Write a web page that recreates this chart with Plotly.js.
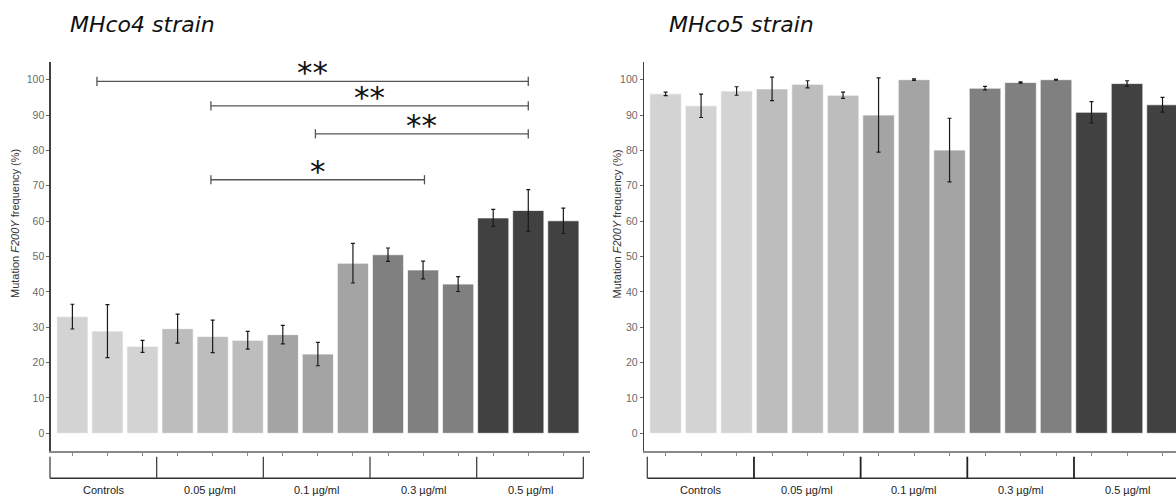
<!DOCTYPE html>
<html>
<head>
<meta charset="utf-8">
<script src="https://cdn.plot.ly/plotly-3.0.1.min.js"></script>
<style>html,body{margin:0;padding:0;background:#fff;}#chart{width:1176px;height:498px;}</style>
</head>
<body>
<div id="chart"></div>
<script>
// ---------- data ----------
const groups = ['Controls', '0.05 µg/ml', '0.1 µg/ml', '0.3 µg/ml', '0.5 µg/ml'];
const groupColors = ['#d3d3d3', '#bdbdbd', '#a4a4a4', '#808080', '#414141'];
const barsPerGroup = 3;
const barIndex = [0,1,2,3,4,5,6,7,8,9,10,11,12,13,14];

const mhco4Values = [33.0, 28.9, 24.6, 29.6, 27.4, 26.3, 27.9, 22.4, 48.1, 50.5, 46.2, 42.2, 60.9, 63.0, 60.1];
const mhco4Err    = [3.5, 7.5, 1.7, 4.1, 4.6, 2.5, 2.6, 3.3, 5.6, 1.9, 2.5, 2.1, 2.4, 5.9, 3.6];

const mhco5Values = [96.0, 92.6, 96.8, 97.4, 98.7, 95.6, 90.0, 100.0, 80.1, 97.6, 99.2, 100.0, 90.8, 98.9, 92.9];
const mhco5Err    = [0.5, 3.3, 1.2, 3.3, 1.0, 0.9, 10.5, 0.2, 9.0, 0.5, 0.2, 0.1, 3.0, 0.8, 2.1];

// significance comparisons on MHco4 panel (bar positions, height, label)
const sigFrom  = [0.7, 3.95, 6.93, 3.95];
const sigTo    = [13.0, 13.0, 13.0, 10.04];
const sigY     = [99.5, 92.6, 84.7, 71.7];
const sigLabel = ['**', '**', '**', '*'];

const yTicks = [0, 10, 20, 30, 40, 50, 60, 70, 80, 90, 100];
const panelTitles = ['MHco4 strain', 'MHco5 strain'];
const yTitle = 'Mutation <i>F200Y</i> frequency (%)';

// ---------- build ----------
const W = 1176, H = 498;
const px = v => v / W;          // x pixel -> paper
const py = v => (H - v) / H;    // y pixel -> paper

const barColors = barIndex.map(i => groupColors[Math.floor(i / barsPerGroup)]);

function barTrace(vals, err, xa, ya) {
  return {
    type: 'bar', x: barIndex, y: vals, xaxis: xa, yaxis: ya,
    marker: {color: barColors, line: {color: 'rgba(255,255,255,0.7)', width: 1}},
    error_y: {type: 'data', array: err, visible: true, color: '#1a1a1a', thickness: 1.2, width: 2},
    showlegend: false, hoverinfo: 'x+y'
  };
}

const data = [
  barTrace(mhco4Values, mhco4Err, 'x', 'y'),
  barTrace(mhco5Values, mhco5Err, 'x2', 'y2')
];

const yDomain = [py(451), py(62)];

function xAxis(domain, range, anchor) {
  return {
    domain: domain, range: range, anchor: anchor,
    showline: true, linecolor: '#8a8a8a', linewidth: 1.5,
    ticks: 'outside', ticklen: 3, tickwidth: 1, tickcolor: '#8a8a8a',
    tickvals: barIndex, ticktext: barIndex.map(() => ''),
    showgrid: false, zeroline: false, fixedrange: true
  };
}
function yAxis(anchor) {
  return {
    domain: yDomain, range: [-5, 105], anchor: anchor,
    showline: true, linecolor: '#404040', linewidth: 1.6,
    ticks: 'outside', ticklen: 3, tickwidth: 1, tickcolor: '#666',
    tickvals: yTicks, ticktext: yTicks.map(String),
    tickfont: {family: 'Liberation Sans, Arial, sans-serif', size: 10.5, color: '#6a6a6a'},
    showgrid: false, zeroline: false, fixedrange: true
  };
}

const shapes = [];
const annotations = [];

// group brackets under each panel
const bracketStarts = [50, 647.3];
const bracketStep = 106.67;
bracketStarts.forEach((x0, p) => {
  const xEnd = x0 + bracketStep * groups.length;
  shapes.push({type: 'line', xref: 'paper', yref: 'paper',
    x0: px(x0), x1: px(Math.min(xEnd, W + 5)), y0: py(478.3), y1: py(478.3),
    line: {color: '#333', width: 1.4}});
  for (let k = 0; k <= groups.length; k++) {
    const xs = x0 + bracketStep * k;
    if (xs > W + 2) continue;
    shapes.push({type: 'line', xref: 'paper', yref: 'paper',
      x0: px(xs), x1: px(xs), y0: py(456.7), y1: py(478.3),
      line: {color: p === 1 && k > 0 ? '#222' : '#444', width: p === 1 && k > 0 ? 1.8 : 1.3}});
  }
  groups.forEach((g, k) => {
    annotations.push({xref: 'paper', yref: 'paper', x: px(x0 + bracketStep * (k + 0.5)), y: py(489.5),
      text: g, showarrow: false, xanchor: 'center', yanchor: 'middle',
      font: {family: 'Liberation Sans, Arial, sans-serif', size: 11, color: '#222'}});
  });
});

// significance bars
sigFrom.forEach((a, i) => {
  const b = sigTo[i], yv = sigY[i];
  shapes.push({type: 'line', xref: 'x', yref: 'y', x0: a, x1: b, y0: yv, y1: yv, line: {color: '#555', width: 1.3}});
  shapes.push({type: 'line', xref: 'x', yref: 'y', x0: a, x1: a, y0: yv - 1.3, y1: yv + 1.3, line: {color: '#555', width: 1.3}});
  shapes.push({type: 'line', xref: 'x', yref: 'y', x0: b, x1: b, y0: yv - 1.3, y1: yv + 1.3, line: {color: '#555', width: 1.3}});
  annotations.push({xref: 'x', yref: 'y', x: (a + b) / 2, y: yv, text: sigLabel[i], showarrow: false,
    xanchor: 'center', yanchor: 'bottom', yshift: -11,
    font: {family: 'DejaVu Sans, sans-serif', size: 31, color: '#111'}});
});

// panel titles
const titleX = [68.3, 666.7];
panelTitles.forEach((t, i) => {
  annotations.push({xref: 'paper', yref: 'paper', x: px(titleX[i]), y: py(24), text: '<i>' + t + '</i>',
    showarrow: false, xanchor: 'left', yanchor: 'middle',
    font: {family: 'DejaVu Sans, Verdana, sans-serif', size: 22, color: '#111'}});
});

// y axis titles
const yTitleX = [15, 616.5];
yTitleX.forEach(x => {
  annotations.push({xref: 'paper', yref: 'paper', x: px(x), y: py(224), text: yTitle, textangle: -90,
    showarrow: false, xanchor: 'center', yanchor: 'middle',
    font: {family: 'Liberation Sans, Arial, sans-serif', size: 11, color: '#333'}});
});

const layout = {
  width: W, height: H,
  margin: {l: 0, r: 0, t: 0, b: 0, pad: 0},
  paper_bgcolor: '#fff', plot_bgcolor: '#fff',
  bargap: 0.11,
  showlegend: false,
  xaxis: xAxis([px(51), px(590)], [-0.61, 14.76], 'y'),
  yaxis: yAxis('x'),
  xaxis2: xAxis([px(644.3), 1], [-0.60, 14.38], 'y2'),
  yaxis2: yAxis('x2'),
  shapes: shapes,
  annotations: annotations
};

Plotly.newPlot('chart', data, layout, {displayModeBar: false, staticPlot: true});
</script>
</body>
</html>
